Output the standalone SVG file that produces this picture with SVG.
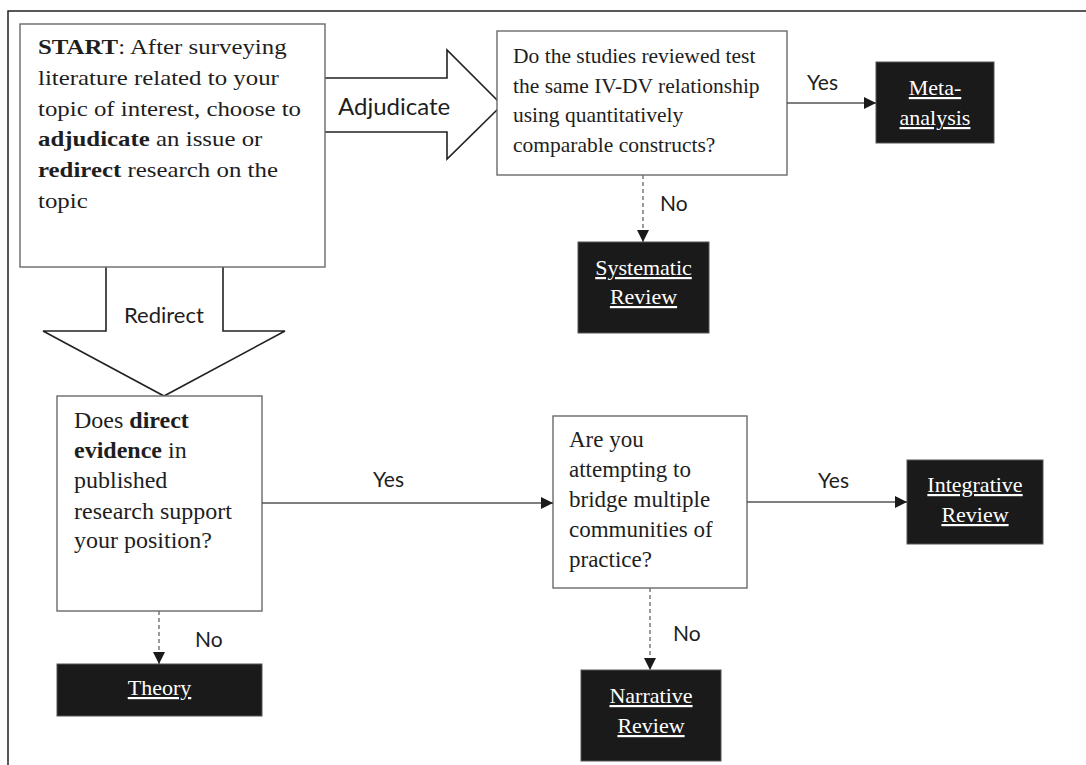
<svg xmlns="http://www.w3.org/2000/svg" width="1086" height="765" viewBox="0 0 1086 765">
  <defs>
    <marker id="arrow" markerUnits="userSpaceOnUse" markerWidth="12" markerHeight="12" refX="12" refY="6" orient="auto">
      <path d="M0,0 L12,6 L0,12 Z" fill="#1a1a1a"/>
    </marker>
    <style>
      .frame { fill: none; stroke: #222; stroke-width: 1.5; }
      .qbox { fill: #fff; stroke: #6a6a6a; stroke-width: 1.4; }
      .term { fill: #1a1a1a; stroke: #555; stroke-width: 1; }
      .block { fill: #fff; stroke: #222; stroke-width: 1.6; stroke-linejoin: miter; }
      .serif { font-family: "Liberation Serif", "Times New Roman", Times, serif; fill: #1e1e1e; }
      .bold { font-weight: bold; }
      .termtext { font-family: "Liberation Serif", "Times New Roman", Times, serif; font-size: 22px; fill: #fff; text-anchor: middle; text-decoration: underline; }
      .label { font-family: Lato, "Open Sans", sans-serif; fill: #1e1e1e; }
      .solid { fill: none; stroke: #555; stroke-width: 1.5; }
      .dashed { fill: none; stroke: #666; stroke-width: 1.3; stroke-dasharray: 4 3; }
    </style>
  </defs>

  <rect width="1086" height="765" fill="#fff"/>

  <!-- outer frame: top and left rules only -->
  <path class="frame" d="M8,765 V11 H1086"/>

  <!-- block arrows for the two first choices -->
  <g id="adjudicate-arrow">
    <path class="block" d="M325,78 H447 V50 L502,105 L447,159 V132 H325"/>
    <text class="label" x="338" y="115" font-size="24">Adjudicate</text>
  </g>
  <g id="redirect-arrow">
    <path class="block" d="M106,267 V331 H43 L164,396 L285,331 H223 V267"/>
    <text class="label" x="124" y="323" font-size="22">Redirect</text>
  </g>

  <!-- start box -->
  <g id="start">
    <rect class="qbox" x="20" y="24" width="305" height="243"/>
    <g class="serif" font-size="22" transform="translate(38,0) scale(1.13,1)">
      <text x="0" y="54"><tspan class="bold">START</tspan>: After surveying</text>
      <text x="0" y="85">literature related to your</text>
      <text x="0" y="116">topic of interest, choose to</text>
      <text x="0" y="146"><tspan class="bold">adjudicate</tspan> an issue or</text>
      <text x="0" y="177"><tspan class="bold">redirect</tspan> research on the</text>
      <text x="0" y="208">topic</text>
    </g>
  </g>

  <!-- question: same IV-DV relationship -->
  <g id="q-ivdv">
    <rect class="qbox" x="497" y="31" width="290" height="144"/>
    <g class="serif" font-size="21.5">
      <text x="513" y="63">Do the studies reviewed test</text>
      <text x="513" y="93">the same IV-DV relationship</text>
      <text x="513" y="122">using quantitatively</text>
      <text x="513" y="152">comparable constructs?</text>
    </g>
  </g>

  <!-- question: direct evidence -->
  <g id="q-evidence">
    <rect class="qbox" x="57" y="396" width="205" height="215"/>
    <g class="serif" font-size="24">
      <text x="74" y="428">Does <tspan class="bold">direct</tspan></text>
      <text x="74" y="458"><tspan class="bold">evidence</tspan> in</text>
      <text x="74" y="488">published</text>
      <text x="74" y="519">research support</text>
      <text x="74" y="548">your position?</text>
    </g>
  </g>

  <!-- question: bridge communities -->
  <g id="q-bridge">
    <rect class="qbox" x="553" y="416" width="194" height="172"/>
    <g class="serif" font-size="23">
      <text x="569" y="447">Are you</text>
      <text x="569" y="477">attempting to</text>
      <text x="569" y="507">bridge multiple</text>
      <text x="569" y="537">communities of</text>
      <text x="569" y="567">practice?</text>
    </g>
  </g>

  <!-- outcomes -->
  <g id="meta-analysis">
    <rect class="term" x="876" y="62" width="118" height="81"/>
    <text class="termtext" x="935" y="95">Meta-</text>
    <text class="termtext" x="935" y="125">analysis</text>
  </g>
  <g id="systematic-review">
    <rect class="term" x="578" y="242" width="131" height="91"/>
    <text class="termtext" x="643.5" y="275">Systematic</text>
    <text class="termtext" x="643.5" y="304">Review</text>
  </g>
  <g id="theory">
    <rect class="term" x="57" y="664" width="205" height="52"/>
    <text class="termtext" x="159.5" y="695">Theory</text>
  </g>
  <g id="integrative-review">
    <rect class="term" x="907" y="460" width="136" height="84"/>
    <text class="termtext" x="975" y="492">Integrative</text>
    <text class="termtext" x="975" y="522">Review</text>
  </g>
  <g id="narrative-review">
    <rect class="term" x="581" y="670" width="140" height="91"/>
    <text class="termtext" x="651" y="703">Narrative</text>
    <text class="termtext" x="651" y="733">Review</text>
  </g>

  <!-- connectors -->
  <g id="connectors">
    <line class="solid" x1="787" y1="103" x2="876" y2="103" marker-end="url(#arrow)"/>
    <line class="dashed" x1="643" y1="175" x2="643" y2="242" marker-end="url(#arrow)"/>
    <line class="solid" x1="262" y1="503" x2="553" y2="503" marker-end="url(#arrow)"/>
    <line class="solid" x1="747" y1="502" x2="907" y2="502" marker-end="url(#arrow)"/>
    <line class="dashed" x1="159" y1="611" x2="159" y2="664" marker-end="url(#arrow)"/>
    <line class="dashed" x1="650" y1="588" x2="650" y2="670" marker-end="url(#arrow)"/>
    <g class="label" font-size="21">
      <text x="807" y="90">Yes</text>
      <text x="660" y="211">No</text>
      <text x="373" y="487">Yes</text>
      <text x="195" y="647">No</text>
      <text x="818" y="488">Yes</text>
      <text x="673" y="641">No</text>
    </g>
  </g>
</svg>
